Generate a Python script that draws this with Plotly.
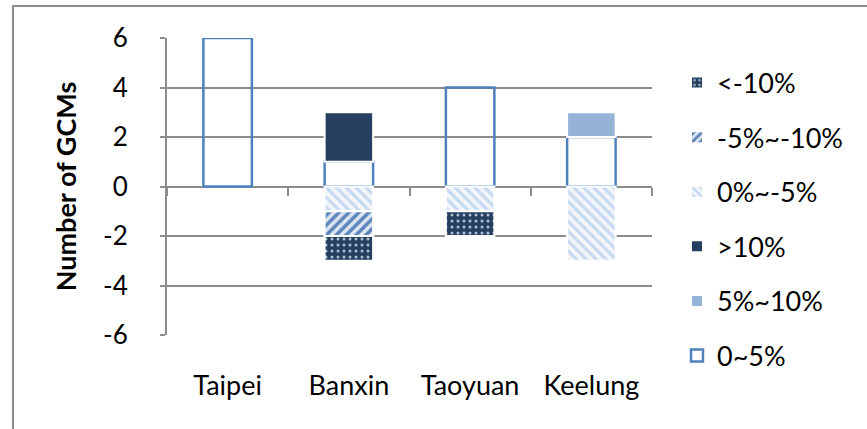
import plotly.graph_objects as go

# Stations and GCM counts per change class
stations = ["Taipei", "Banxin", "Taoyuan", "Keelung"]

pos_0_5 = [6, 1, 4, 2]        # 0~5%
pos_5_10 = [0, 0, 0, 1]       # 5%~10%
pos_gt10 = [0, 2, 0, 0]       # >10%
neg_0_5 = [0, -1, -1, -3]     # 0%~-5%
neg_5_10 = [0, -1, 0, 0]      # -5%~-10%
neg_lt10 = [0, -1, -1, 0]     # <-10%

y_ticks = [-6, -4, -2, 0, 2, 4, 6]

FONT = "Lato"
GRID = "#8c8c8c"
W, H = 867, 429
ML, MR, MT, MB = 167, 215, 38, 94
PW, PH = W - ML - MR, H - MT - MB

fig = go.Figure()

# (name, values, marker, legend row from top)
series = [
    ("0~5%", pos_0_5, dict(color="rgba(255,255,255,0)",
                           line=dict(color="#4F81BD", width=2.5)), 5),
    ("5%~10%", pos_5_10, dict(color="#95B3D7",
                              line=dict(color="white", width=2)), 4),
    (">10%", pos_gt10, dict(color="#243F60",
                            line=dict(color="white", width=2)), 3),
    ("0%~-5%", neg_0_5, dict(color="#C6D9F1",
                             line=dict(color="white", width=2),
                             pattern=dict(shape="\\", fillmode="replace",
                                          bgcolor="#F2F6FB", fgcolor="#C6D9F1",
                                          size=7, solidity=0.45)), 2),
    ("-5%~-10%", neg_5_10, dict(color="#5F86BA",
                                line=dict(color="white", width=2),
                                pattern=dict(shape="/", fillmode="replace",
                                             bgcolor="#DCE6F2", fgcolor="#5F86BA",
                                             size=7, solidity=0.5)), 1),
    ("<-10%", neg_lt10, dict(color="#243F60",
                             line=dict(color="white", width=2),
                             pattern=dict(shape=".", fillmode="replace",
                                          bgcolor="#243F60", fgcolor="#AFC0D6",
                                          size=6, solidity=0.2)), 0),
]

LEG_TOP = 83      # centre of first legend row, px from top
LEG_STEP = 54.6   # row spacing, px
LEG_LEFT = 677    # legend box left edge, px

legends = {}
for i, (name, vals, marker, row) in enumerate(series):
    key = "legend" if i == 0 else f"legend{i + 1}"
    fig.add_trace(go.Bar(
        x=stations, y=[v if v else None for v in vals], name=name,
        marker=marker, width=0.4, legend=key, cliponaxis=False,
        hoverinfo="skip",
    ))
    yc = LEG_TOP + row * LEG_STEP
    legends[key] = dict(
        x=(LEG_LEFT - ML) / PW, xanchor="left",
        y=1 - (yc - MT) / PH, yanchor="middle",
        bgcolor="rgba(0,0,0,0)", borderwidth=0,
        font=dict(family=FONT, size=27, color="#000000"),
        itemwidth=30,
    )

# Axis along y=0 carrying category-boundary tick marks
fig.add_trace(go.Scatter(
    x=[-0.5, len(stations) - 0.5], y=[0, 0], xaxis="x2", yaxis="y",
    mode="lines", line=dict(width=0), showlegend=False, hoverinfo="skip",
))

fig.update_layout(
    width=W, height=H,
    margin=dict(l=ML, r=MR, t=MT, b=MB),
    paper_bgcolor="white", plot_bgcolor="white",
    barmode="relative",
    font=dict(family=FONT, size=27, color="#000000"),
    showlegend=True,
    xaxis=dict(
        type="category", showgrid=False, showline=False, ticks="",
        zeroline=False, ticklabelstandoff=32,
        tickfont=dict(family=FONT, size=27),
    ),
    xaxis2=dict(
        overlaying="x", anchor="free", position=0.5, side="bottom",
        range=[-0.5, len(stations) - 0.5],
        tickvals=[i - 0.5 for i in range(len(stations) + 1)],
        ticks="outside", ticklen=8, tickwidth=2, tickcolor=GRID,
        showticklabels=False, showgrid=False, zeroline=False,
        showline=True, linecolor=GRID, linewidth=2, layer="below traces",
    ),
    yaxis=dict(
        range=[-6, 6], tickvals=y_ticks, ticktext=[str(v) for v in y_ticks],
        showgrid=True, gridcolor=GRID, gridwidth=1.5,
        zeroline=False, showline=True, linecolor=GRID, linewidth=2,
        ticks="outside", ticklen=5, tickwidth=1.5, tickcolor=GRID,
        ticklabelstandoff=27,
        tickfont=dict(family=FONT, size=26),
        title=dict(text="<b>Number of GCMs</b>", standoff=19,
                   font=dict(family=FONT, size=27)),
    ),
    **legends,
)

# Chart-area frame
fig.add_shape(
    type="rect", xref="paper", yref="paper", layer="below",
    x0=(13 - ML) / PW, x1=(W + 20 - ML) / PW,
    y0=-(MB + 20) / PH, y1=1 + (MT - 6) / PH,
    line=dict(color="#8c8c8c", width=2), fillcolor="rgba(0,0,0,0)",
)

fig.write_html("out.html")
